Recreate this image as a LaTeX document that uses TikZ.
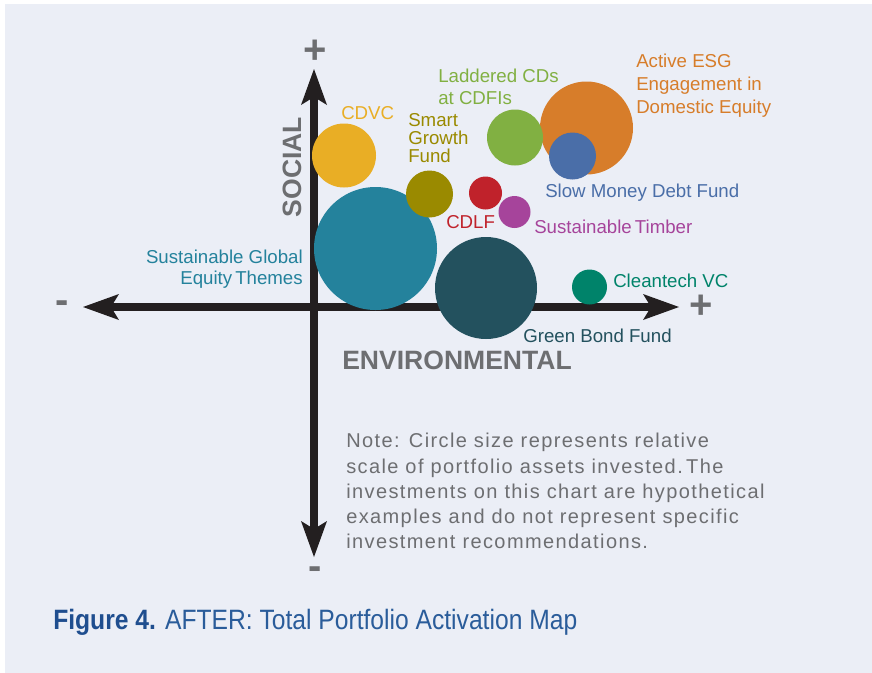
\documentclass[tikz,border=0pt]{standalone}
\usepackage{fontspec}
\setmainfont{Liberation Sans}
\newfontfamily\notefont[LetterSpace=7]{Liberation Sans}
\usetikzlibrary{arrows.meta}
\definecolor{bg}{HTML}{EBEEF6}
\definecolor{axisgray}{HTML}{6D6E71}
\definecolor{axisblack}{HTML}{231F20}
\definecolor{cdvc}{HTML}{E9AE25}
\definecolor{smart}{HTML}{9A8A00}
\definecolor{cdlf}{HTML}{C0222B}
\definecolor{timber}{HTML}{A6449B}
\definecolor{ladder}{HTML}{81B042}
\definecolor{esg}{HTML}{D77D2A}
\definecolor{slow}{HTML}{4A6EA8}
\definecolor{sget}{HTML}{24829C}
\definecolor{gbond}{HTML}{23515E}
\definecolor{clean}{HTML}{00836A}
\definecolor{capbold}{HTML}{1F4E8F}
\definecolor{caplight}{HTML}{2A5C9A}
\begin{document}
\begin{tikzpicture}[x=0.75pt,y=-0.75pt,
  bub/.style={circle, inner sep=0pt, minimum size=#1*1.5pt},
  lab/.style={font=\fontsize{14}{16.5}\selectfont, inner sep=0pt, align=left},
  axlab/.style={font=\fontsize{19.9}{22}\selectfont\bfseries, text=axisgray, inner sep=0pt},
  sign/.style={font=\fontsize{30}{32}\selectfont\bfseries, text=axisgray, inner sep=0pt},
  axis/.style={draw=axisblack, line width=5.6pt,
    {Stealth[length=27pt,width=19.5pt,inset=6pt,line width=0pt]}-{Stealth[length=27pt,width=19.5pt,inset=6pt,line width=0pt]}}
]
\useasboundingbox (0,0) rectangle (872,672);
\fill[white] (0,0) rectangle (872,672);
\clip (0,0) rectangle (872,672);
\fill[bg] (5,4) rectangle (880,680);

% axes
\coordinate (xl) at (83,307);
\coordinate (xr) at (679,307);
\coordinate (yt) at (314,69);
\coordinate (yb) at (314,557);
\draw[axis] (xl) -- (xr);
\draw[axis] (yb) -- (yt);

% signs
\node[sign] (plusy) at (315,52) {+};
\node[sign] (plusx) at (701,307) {+};
\node[sign] (minx) at (62,307) {-};
\node[sign] (miny) at (315,573) {-};

% axis labels
\node[axlab] (env) at (457,360) {ENVIRONMENTAL};
\node[axlab, rotate=90] (soc) at (292,167) {SOCIAL};

% circles
\node[bub=61.5, fill=sget] (c-sget) at (375.5,248.5) {};
\node[bub=51, fill=gbond] (c-gbond) at (486,288) {};
\node[bub=32, fill=cdvc] (c-cdvc) at (344,155.5) {};
\node[bub=23.5, fill=smart] (c-smart) at (429.5,194) {};
\node[bub=16.5, fill=cdlf] (c-cdlf) at (485.5,193) {};
\node[bub=16, fill=timber] (c-timber) at (514.5,212) {};
\node[bub=46.5, fill=esg] (c-esg) at (586.5,128) {};
\node[bub=28, fill=ladder] (c-ladder) at (515,137.5) {};
\node[bub=23.5, fill=slow] (c-slow) at (572.5,156) {};
\node[bub=17.5, fill=clean] (c-clean) at (589.5,287) {};

% labels
\node[lab, text=cdvc, anchor=base west] (l-cdvc) at (341,119) {CDVC};
\node[lab, text=smart, anchor=north west, font=\fontsize{14}{13.5}\selectfont] (l-smart) at (408,113.4) {Smart\\Growth\\Fund};
\node[lab, text=ladder, anchor=north west] (l-ladder) at (438,68.4) {Laddered CDs\\[0.5pt]at CDFIs};
\node[lab, text=esg, anchor=north west, font=\fontsize{14}{17.25}\selectfont] (l-esg) at (636,53.4) {Active ESG\\Engagement in\\Domestic Equity};
\node[lab, text=slow, anchor=base west] (l-slow) at (545,197) {Slow Money Debt Fund};
\node[lab, text=cdlf, anchor=base west] (l-cdlf) at (446,228) {CDLF};
\node[lab, text=timber, anchor=base west] (l-timber) at (534,233) {Sustainable\,Timber};
\node[lab, text=sget, anchor=north east, align=right, font=\fontsize{14}{15.75}\selectfont] (l-sget) at (303,249.3) {Sustainable Global\\Equity\,Themes};
\node[lab, text=clean, anchor=base west] (l-clean) at (613,287) {Cleantech VC};
\node[lab, text=gbond, anchor=base west] (l-gbond) at (523,342) {Green Bond Fund};

% note
\node[inner sep=0pt, align=left, anchor=north west, text=axisgray,
  font=\notefont\fontsize{15}{18.9}\selectfont] (note) at (346,433.2)
  {Note: Circle size represents relative\\scale of portfolio assets invested.\,The\\investments on this chart are hypothetical\\examples and do not represent specific\\investment recommendations.};

% caption
\node[inner sep=0pt, anchor=base west, font=\fontsize{21}{24}\selectfont] (caption) at (53,629)
  {\scalebox{0.88}[1]{\textcolor{capbold}{\bfseries Figure 4.} \textcolor{caplight}{AFTER: Total Portfolio Activation Map}}};
\end{tikzpicture}
\end{document}
